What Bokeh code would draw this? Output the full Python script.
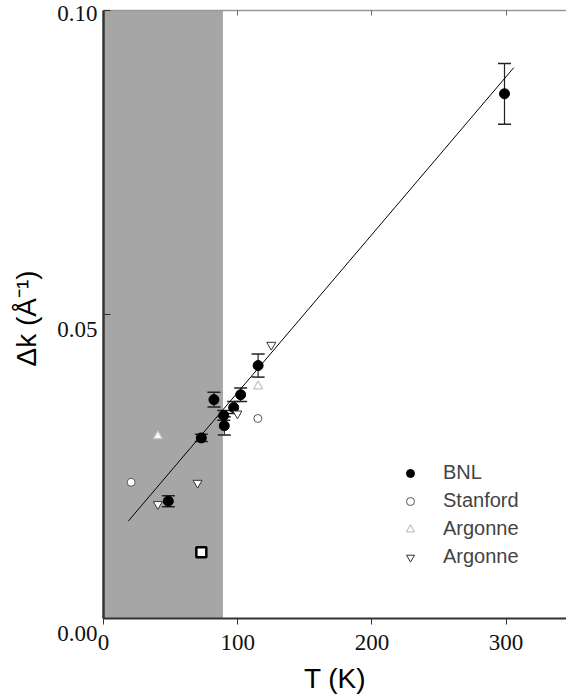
from bokeh.plotting import figure
from bokeh.models import (ColumnDataSource, Whisker, TeeHead, LinearAxis, FixedTicker,
                          Legend, LegendItem, BoxAnnotation, Range1d)
from bokeh.embed import file_html
from bokeh.resources import INLINE

# ---- data ----
bnl_T = [48.3, 72.9, 82.3, 89.6, 90.0, 97.0, 102.2, 115.2, 298.8]
bnl_dk = [0.0193, 0.0297, 0.0360, 0.0334, 0.0317, 0.0347, 0.0368, 0.0416, 0.0863]
bnl_err = [0.0009, 0.0006, 0.0012, 0.0008, 0.0015, 0.0010, 0.0011, 0.0019, 0.0050]

stanford_T = [20.6, 115.0]
stanford_dk = [0.0224, 0.0329]

argonne_up_T = [40.5, 115.2]
argonne_up_dk = [0.0300, 0.0382]

argonne_down_T = [40.5, 70.1, 99.8, 125.0]
argonne_down_dk = [0.0188, 0.0223, 0.0337, 0.0450]

square_T = [72.9]
square_dk = [0.0109]

fit_T = [18.4, 305.7]
fit_dk = [0.0160, 0.0906]

shade_T = [0, 89]

x_ticks = [0, 100, 200, 300]
y_ticks = [0.0, 0.05, 0.10]
y_tick_labels = ["\n0.00", "\n0.05", "0.10"]

# ---- figure ----
p = figure(frame_width=463, frame_height=608, min_border_left=103, min_border_right=0,
           min_border_top=10, min_border_bottom=80,
           x_range=Range1d(0, 345), y_range=Range1d(0, 0.10),
           output_backend="svg", toolbar_location=None,
           background_fill_color="white", border_fill_color="white")
p.outline_line_color = None
p.xgrid.visible = False
p.ygrid.visible = False

# shaded region
p.add_layout(BoxAnnotation(left=shade_T[0], right=shade_T[1], fill_color="#a6a6a6",
                           fill_alpha=1.0, line_color=None, level="underlay"))

# fit line
p.line(fit_T, fit_dk, line_color="black", line_width=1)

# error bars
src_bnl = ColumnDataSource(dict(x=bnl_T, y=bnl_dk,
                                lo=[a - b for a, b in zip(bnl_dk, bnl_err)],
                                hi=[a + b for a, b in zip(bnl_dk, bnl_err)]))
wh = Whisker(base="x", lower="lo", upper="hi", source=src_bnl, line_color="#222222",
             line_width=1.2,
             upper_head=TeeHead(size=13, line_color="#222222", line_width=1.5),
             lower_head=TeeHead(size=13, line_color="#222222", line_width=1.5))
p.add_layout(wh)

r_bnl = p.scatter("x", "y", source=src_bnl, marker="circle", size=10,
                  fill_color="black", line_color="black")
r_stan = p.scatter(stanford_T, stanford_dk, marker="circle", size=8,
                   fill_color="white", line_color="#555555", line_width=1)
r_up = p.scatter(argonne_up_T, argonne_up_dk, marker="triangle", size=9,
                 fill_color="white", line_color="#c4c4c4", line_width=1.2)
r_down = p.scatter(argonne_down_T, argonne_down_dk, marker="inverted_triangle", size=9,
                   fill_color="white", line_color="#333333", line_width=1)
p.scatter(square_T, square_dk, marker="square", size=10, fill_color="white",
          line_color="black", line_width=2.5)

# axes
serif = "Liberation Serif"
sans = "Liberation Sans"

xa = p.xaxis[0]
xa.ticker = FixedTicker(ticks=x_ticks)
xa.minor_tick_line_color = None
xa.major_tick_in = 0
xa.major_tick_out = 6
xa.axis_line_width = 2
xa.axis_line_color = "#333333"
xa.major_tick_line_color = "#333333"
xa.major_label_text_font = serif
xa.major_label_text_font_size = "23px"
xa.major_label_text_color = "#111111"
xa.major_label_standoff = 10
xa.axis_label = "T (K)"
xa.axis_label_text_font = sans
xa.axis_label_text_font_size = "28px"
xa.axis_label_text_font_style = "normal"
xa.axis_label_text_color = "black"
xa.axis_label_standoff = 10

ya = p.yaxis[0]
ya.ticker = FixedTicker(ticks=y_ticks)
ya.major_label_overrides = {t: l for t, l in zip(y_ticks, y_tick_labels)}
ya.minor_tick_line_color = None
ya.major_tick_in = 7
ya.major_tick_out = 0
ya.axis_line_width = 2.5
ya.axis_line_color = "#333333"
ya.major_tick_line_color = "#333333"
ya.major_label_text_font = serif
ya.major_label_text_font_size = "23px"
ya.major_label_text_color = "#111111"
ya.major_label_standoff = 6
ya.axis_label = "Δk  (Å⁻¹)"
ya.axis_label_text_font = sans
ya.axis_label_text_font_size = "28px"
ya.axis_label_text_font_style = "normal"
ya.axis_label_text_color = "black"
ya.axis_label_standoff = 12

top = LinearAxis(ticker=FixedTicker(ticks=x_ticks),
                 major_label_overrides={t: "" for t in x_ticks},
                 major_tick_in=5, major_tick_out=0, minor_tick_line_color=None,
                 axis_line_color="#999999", axis_line_width=1.5,
                 major_tick_line_color="#666666", major_label_standoff=0)
p.add_layout(top, "above")

legend = Legend(items=[LegendItem(label="BNL", renderers=[r_bnl]),
                       LegendItem(label="Stanford", renderers=[r_stan]),
                       LegendItem(label="Argonne", renderers=[r_up]),
                       LegendItem(label="Argonne", renderers=[r_down])],
                location=(297, 50), border_line_color=None, background_fill_alpha=0,
                padding=0, margin=0, spacing=5, label_height=20, glyph_width=20,
                glyph_height=20, label_standoff=23,
                label_text_font=sans, label_text_font_size="20px")
p.add_layout(legend, "center")

open("out.html", "w").write(file_html(p, INLINE))
